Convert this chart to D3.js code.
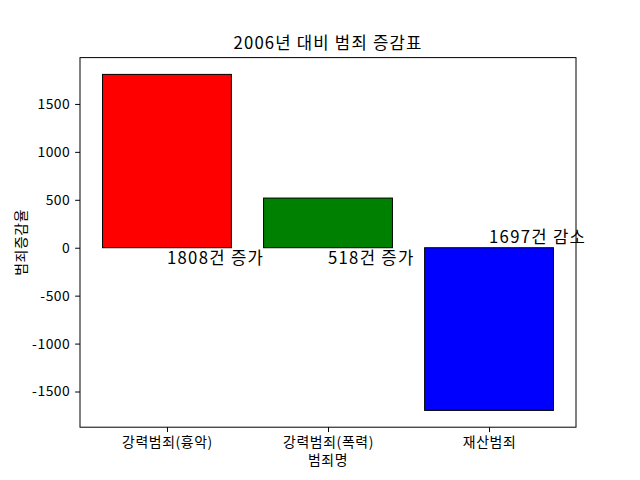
<!DOCTYPE html>
<html>
<head>
<meta charset="utf-8">
<script src="https://cdn.jsdelivr.net/npm/d3@7"></script>
<style>
  body { margin: 0; background: white; }
  text { font-family: "Noto Sans CJK KR", "Noto Sans", sans-serif; fill: black; }
</style>
</head>
<body>
<svg id="chart" width="640" height="480"></svg>
<script>
// data
var categories = ["강력범죄(흉악)", "강력범죄(폭력)", "재산범죄"];
var changes = [1808, 518, -1697];
var barColors = ["red", "green", "blue"];
var barLabels = ["1808건 증가", "518건 증가", "1697건 감소"];
var yTicks = [-1500, -1000, -500, 0, 500, 1000, 1500];

// plot box (window.top is taken, so no bare "top")
var plotLeft = 80, plotRight = 576, plotTop = 57.6, plotBottom = 427.2;
var tickLen = 4.86, pad = 4.86;

var svg = d3.select("#chart");
svg.append("rect").attr("width", 640).attr("height", 480).attr("fill", "white");

// matplotlib-like margins: 5% of data range
var barW = 0.8;
var xMin = -barW / 2, xMax = categories.length - 1 + barW / 2;
var xm = (xMax - xMin) * 0.05;
var x = d3.scaleLinear().domain([xMin - xm, xMax + xm]).range([plotLeft, plotRight]);

var yLo = d3.min(changes), yHi = d3.max(changes);
var ym = (yHi - yLo) * 0.05;
var y = d3.scaleLinear().domain([yLo - ym, yHi + ym]).range([plotBottom, plotTop]);

// bars
svg.selectAll(".bar")
  .data(changes)
  .enter().append("rect")
  .attr("class", "bar")
  .attr("x", function (d, i) { return x(i - barW / 2); })
  .attr("width", function (d, i) { return x(i + barW / 2) - x(i - barW / 2); })
  .attr("y", function (d) { return y(Math.max(d, 0)); })
  .attr("height", function (d) { return Math.abs(y(d) - y(0)); })
  .attr("fill", function (d, i) { return barColors[i]; })
  .attr("stroke", "black")
  .attr("stroke-width", 1);

// value labels: below zero for increases, above zero for decreases
svg.selectAll(".bar-label")
  .data(changes)
  .enter().append("text")
  .attr("class", "bar-label")
  .attr("x", function (d, i) { return x(i); })
  .attr("y", function (d) { return d > 0 ? y(-175) : y(50); })
  .attr("font-size", "16.7px")
  .attr("letter-spacing", "1.3px")
  .text(function (d, i) { return barLabels[i]; });

// frame
svg.append("rect")
  .attr("x", plotLeft).attr("y", plotTop)
  .attr("width", plotRight - plotLeft).attr("height", plotBottom - plotTop)
  .attr("fill", "none").attr("stroke", "black").attr("stroke-width", 1);

// x axis
var xAxis = d3.axisBottom(x)
  .tickValues(d3.range(categories.length))
  .tickFormat(function (i) { return categories[i]; })
  .tickSize(tickLen).tickPadding(pad);
var gx = svg.append("g").attr("transform", "translate(0," + plotBottom + ")").call(xAxis);
gx.select(".domain").remove();
gx.selectAll("text").attr("font-size", "13.9px").attr("font-family", "Noto Sans CJK KR")
  .attr("letter-spacing", "0.6px");

// y axis
var yAxis = d3.axisLeft(y).tickValues(yTicks)
  .tickFormat(function (d) { return d < 0 ? "-" + Math.abs(d) : String(d); })
  .tickSize(tickLen).tickPadding(pad);
var gy = svg.append("g").attr("transform", "translate(" + plotLeft + ",0)").call(yAxis);
gy.select(".domain").remove();
gy.selectAll("text").attr("font-size", "13.9px").attr("font-family", "Noto Sans CJK KR")
  .attr("letter-spacing", "0.5px");

// titles
svg.append("text")
  .attr("x", (plotLeft + plotRight) / 2).attr("y", 49)
  .attr("text-anchor", "middle").attr("font-size", "16.7px")
  .attr("letter-spacing", "1.2px")
  .text("2006년 대비 범죄 증감표");

svg.append("text")
  .attr("x", (plotLeft + plotRight) / 2).attr("y", 465)
  .attr("text-anchor", "middle").attr("font-size", "13.9px")
  .attr("letter-spacing", "0.6px")
  .text("범죄명");

svg.append("text")
  .attr("transform", "translate(26," + (plotTop + plotBottom) / 2 + ") rotate(-90)")
  .attr("text-anchor", "middle").attr("font-size", "13.9px")
  .attr("letter-spacing", "0.6px")
  .text("범죄증감율");
</script>
</body>
</html>
